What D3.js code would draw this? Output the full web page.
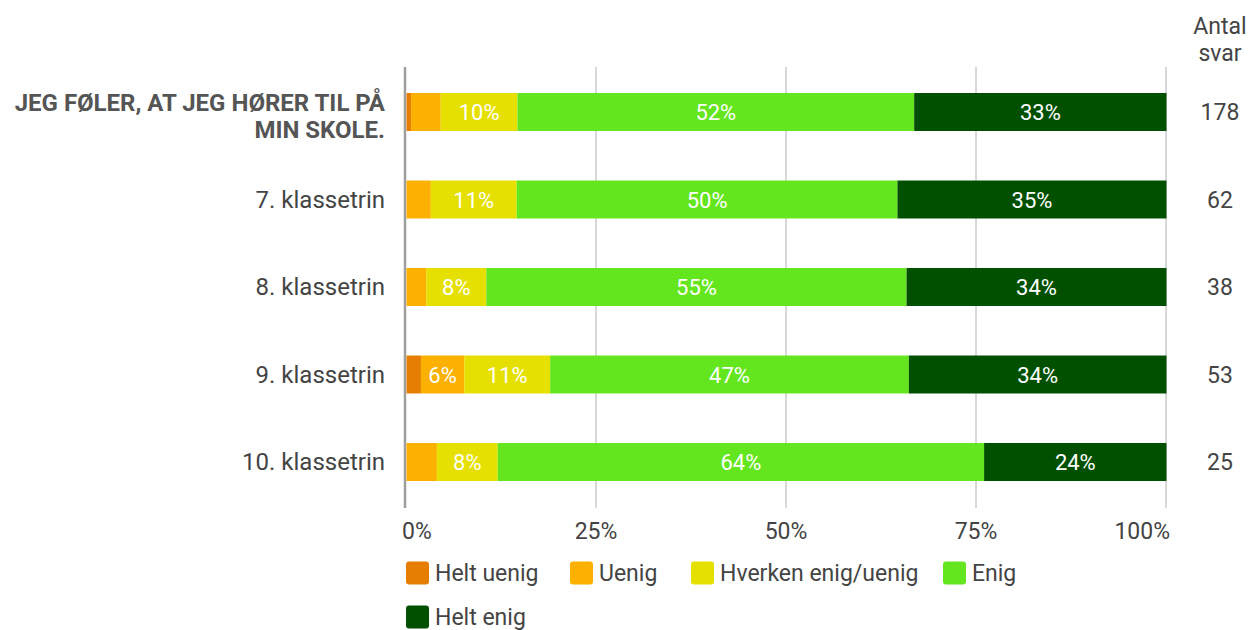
<!DOCTYPE html>
<html>
<head>
<meta charset="utf-8">
<script src="https://cdn.jsdelivr.net/npm/d3@7"></script>
<style>
  body { margin: 0; background: #fff; }
  svg text { font-family: Roboto, "Noto Sans", sans-serif; }
</style>
</head>
<body>
<svg id="chart" width="1249" height="630"></svg>
<script>
// categories (first row is the whole-school total, drawn as a bold title)
const rows = ["JEG FØLER, AT JEG HØRER TIL PÅ MIN SKOLE.", "7. klassetrin", "8. klassetrin", "9. klassetrin", "10. klassetrin"];
const titleLines = ["JEG FØLER, AT JEG HØRER TIL PÅ", "MIN SKOLE."];
const answers = ["Helt uenig", "Uenig", "Hverken enig/uenig", "Enig", "Helt enig"];
const counts = [178, 62, 38, 53, 25];

// share of answers in percent, one array per answer
const heltUenig = [0.6, 0, 0, 1.9, 0];
const uenig     = [3.9, 3.2, 2.6, 5.7, 4];
const hverken   = [10.1, 11.3, 7.9, 11.3, 8];
const enig      = [52.2, 50.1, 55.3, 47.2, 64];
const heltEnig  = [33.2, 35.4, 34.2, 33.9, 24];

const ticks = [0, 25, 50, 75, 100];
const colors = ["#e67e04", "#fcb000", "#e6e000", "#64e61e", "#005000"];

const svg = d3.select("#chart");
const margin = { left: 406, right: 83 };
const width = +svg.attr("width");

const series = [heltUenig, uenig, hverken, enig, heltEnig];
const table = rows.map((r, i) => {
  const o = { row: r, n: counts[i] };
  answers.forEach((a, j) => { o[a] = series[j][i]; });
  return o;
});

const stacked = d3.stack().keys(answers)(table);

const x = d3.scaleLinear()
  .domain([0, 100])
  .range([margin.left, width - margin.right]);

const y = d3.scaleBand()
  .domain(rows)
  .range([68.25, 505.75])
  .paddingInner(0.566)
  .paddingOuter(0.283);

// gridlines
svg.append("g")
  .selectAll("line")
  .data(ticks)
  .join("line")
  .attr("x1", d => d === 0 ? x(d) - 1 : x(d))
  .attr("x2", d => d === 0 ? x(d) - 1 : x(d))
  .attr("y1", 67)
  .attr("y2", 508)
  .attr("stroke", d => d === 0 ? "#9e9e9e" : "#b0b0b0")
  .attr("stroke-width", d => d === 0 ? 2.5 : 1);

// tick labels
svg.append("g")
  .selectAll("text")
  .data(ticks)
  .join("text")
  .attr("x", d => d === 0 ? x(d) - 4 : (d === 100 ? x(d) + 4 : x(d)))
  .attr("y", 539)
  .attr("text-anchor", d => d === 0 ? "start" : (d === 100 ? "end" : "middle"))
  .attr("font-size", 23)
  .attr("fill", "#444")
  .text(d => d + "%");

// bars
const layer = svg.append("g")
  .selectAll("g")
  .data(stacked)
  .join("g")
  .attr("fill", (d, i) => colors[i]);

layer.selectAll("rect")
  .data(d => d)
  .join("rect")
  .attr("x", d => x(d[0]) + 0.5)
  .attr("y", d => y(d.data.row))
  .attr("width", d => Math.max(0, x(d[1]) - x(d[0])))
  .attr("height", y.bandwidth());

// segment labels
layer.selectAll("text")
  .data(d => d.filter(s => s[1] - s[0] >= 5))
  .join("text")
  .attr("x", d => (x(d[0]) + x(d[1])) / 2 + 0.5)
  .attr("y", d => y(d.data.row) + y.bandwidth() / 2 + 8)
  .attr("text-anchor", "middle")
  .attr("font-size", 22)
  .attr("fill", "#fff")
  .text(d => Math.round(d[1] - d[0]) + "%");

// row labels
const labels = svg.append("g");
rows.slice(1).forEach(r => {
  labels.append("text")
    .attr("x", 385)
    .attr("y", y(r) + y.bandwidth() / 2 + 8)
    .attr("text-anchor", "end")
    .attr("font-size", 24)
    .attr("fill", "#444")
    .text(r);
});
labels.append("text")
  .attr("x", 385)
  .attr("y", y(rows[0]) + y.bandwidth() / 2 - 1)
  .attr("text-anchor", "end")
  .attr("font-size", 24)
  .attr("font-weight", "bold")
  .attr("fill", "#555")
  .selectAll("tspan")
  .data(titleLines)
  .join("tspan")
  .attr("x", 385)
  .attr("dy", (d, i) => i === 0 ? 0 : 27)
  .text(d => d);

// count column
svg.append("text")
  .attr("x", 1220)
  .attr("y", 34)
  .attr("text-anchor", "middle")
  .attr("font-size", 23)
  .attr("fill", "#444")
  .selectAll("tspan")
  .data(["Antal", "svar"])
  .join("tspan")
  .attr("x", 1220)
  .attr("dy", (d, i) => i === 0 ? 0 : 27)
  .text(d => d);

svg.append("g")
  .selectAll("text")
  .data(table)
  .join("text")
  .attr("x", 1220)
  .attr("y", d => y(d.row) + y.bandwidth() / 2 + 8)
  .attr("text-anchor", "middle")
  .attr("font-size", 23)
  .attr("fill", "#444")
  .text(d => d.n);

// legend
const legendPos = [[406, 573], [570, 573], [691, 573], [943, 573], [406, 617]];
const legend = svg.append("g")
  .selectAll("g")
  .data(answers)
  .join("g")
  .attr("transform", (d, i) => `translate(${legendPos[i][0]},${legendPos[i][1]})`);

legend.append("rect")
  .attr("x", 0)
  .attr("y", -11.5)
  .attr("width", 23)
  .attr("height", 23)
  .attr("rx", 3)
  .attr("fill", (d, i) => colors[i]);

legend.append("text")
  .attr("x", 29)
  .attr("y", 8)
  .attr("font-size", 23)
  .attr("fill", "#444")
  .text(d => d);
</script>
</body>
</html>
